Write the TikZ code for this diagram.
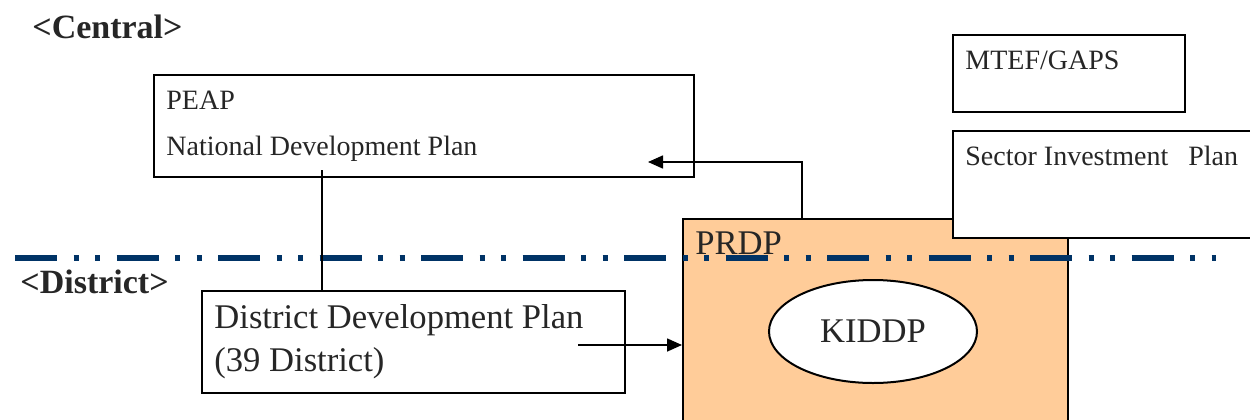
\documentclass[tikz,border=0pt]{standalone}
\usepackage{fontspec}
\setmainfont{Liberation Serif}
\usetikzlibrary{arrows.meta,shapes.geometric}
\definecolor{peach}{RGB}{255,204,153}
\definecolor{navyline}{RGB}{0,51,102}
\tikzset{
  planbox/.style={draw,line width=1pt,fill=white,inner sep=0pt,anchor=north west},
  lbl/.style={anchor=base west,inner sep=0pt,text=black!85},
  small/.style={font=\fontsize{14}{16}\selectfont},
  large/.style={font=\fontsize{17.3}{20}\selectfont},
  level/.style={font=\fontsize{17}{20}\selectfont\bfseries},
  link/.style={line width=0.8pt},
  tip/.style={-{Triangle[length=7.5pt,width=6.5pt]}}
}

\begin{document}
\begin{tikzpicture}[x=0.5pt,y=-0.5pt]
\useasboundingbox (0,0) rectangle (1250,419);
% central level
\node[lbl,level] (central) at (32,38) {<Central>};
\node[planbox,minimum width=270pt,minimum height=51pt] (peap) at (153,74) {};
\node[lbl,small] (peaptxt) at (166,109) {PEAP};
\node[lbl,small] (ndptxt) at (166,155) {National Development Plan};
\node[planbox,minimum width=116pt,minimum height=38.5pt] (mtef) at (952,34) {};
\node[lbl,small] (mteftxt) at (965,69) {MTEF/GAPS};
% PRDP frame, partly under the sector box
\node[planbox,fill=peach,minimum width=192.5pt,minimum height=110pt] (prdp) at (682,218) {};
\node[planbox,minimum width=155pt,minimum height=53.5pt] (sip) at (952,130) {};
\node[lbl,small] (siptxt) at (965,165) {Sector Investment\hspace{10pt}Plan};
\node[lbl,large] (prdptxt) at (695,254) {PRDP};
\node[draw,ellipse,line width=1pt,fill=white,inner sep=0pt,minimum width=104pt,minimum height=51.5pt,
  large,text=black!85] (kiddp) at (873,331.5) {KIDDP};
% district level
\node[lbl,level] (district) at (20,293) {<District>};
\node[planbox,minimum width=211.5pt,minimum height=51pt] (ddp) at (201,290) {};
\node[lbl,large] (ddptxt) at (214,328) {District Development Plan};
\node[lbl,large] (ddpnum) at (214,371) {(39 District)};
% divider
\draw[navyline,line width=2.75pt,
  dash pattern=on 21pt off 8.25pt on 2.5pt off 8.25pt on 2.5pt off 8.25pt] (15,258) -- (1216,258);
% links
\coordinate (peapfoot) at (322,170);
\draw[link] (peapfoot) -- (peapfoot |- ddp.north);
\coordinate (upturn) at (802,162);
\coordinate (peapin) at (648,162);
\draw[link,tip] (upturn |- prdp.north) -- (upturn) -- (peapin);
\coordinate (ddpout) at (578,345);
\draw[link,tip] (ddpout) -- (ddpout -| prdp.west);
\end{tikzpicture}
\end{document}
